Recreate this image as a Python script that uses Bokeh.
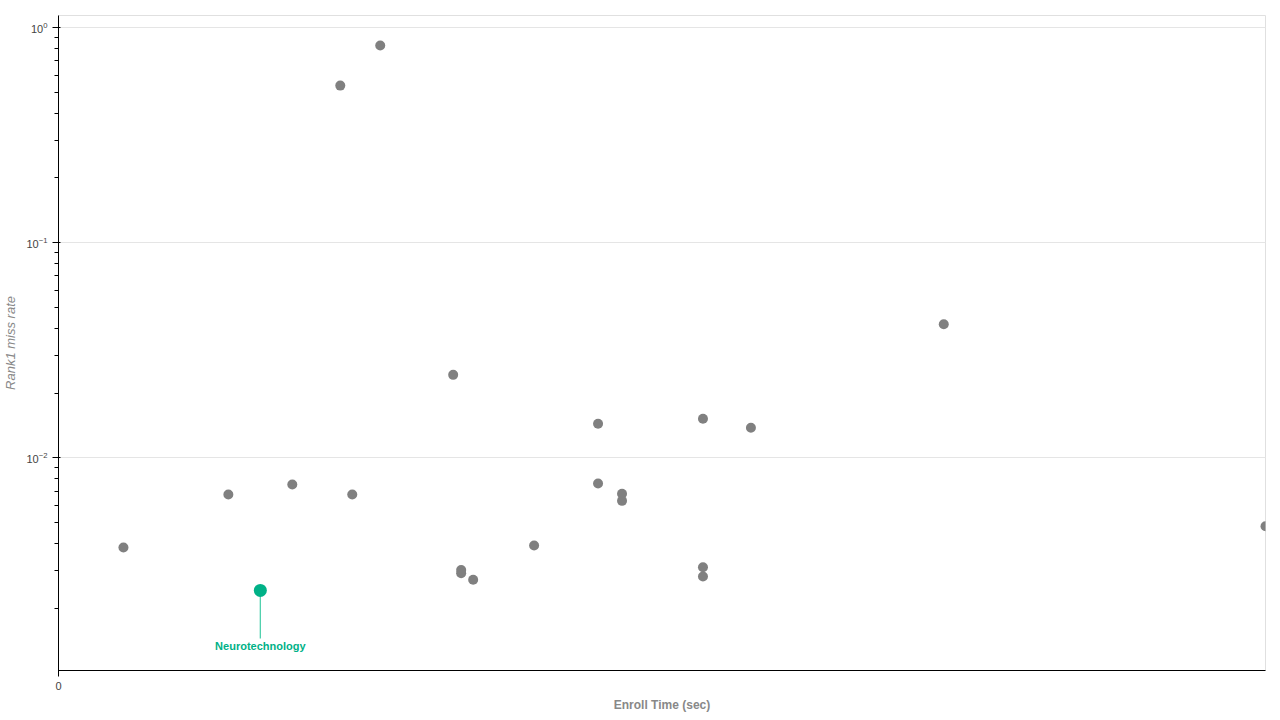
from bokeh.plotting import figure
from bokeh.models import ColumnDataSource, Range1d, FixedTicker
from bokeh.core.properties import value
from bokeh.embed import file_html
from bokeh.resources import INLINE

# enroll time (sec) and rank-1 miss rate
enroll_time = [0.065, 0.170, 0.234, 0.294, 0.282, 0.322, 0.395, 0.403, 0.403,
               0.415, 0.476, 0.540, 0.540, 0.564, 0.564, 0.645, 0.645, 0.645,
               0.693, 0.886, 1.208]
miss_rate = [0.00383, 0.00675, 0.00751, 0.00675, 0.537, 0.824, 0.0243, 0.00301,
             0.00291, 0.00271, 0.00391, 0.0144, 0.00760, 0.00681, 0.00631,
             0.0152, 0.00310, 0.00281, 0.0138, 0.0418, 0.00481]

highlight_name = ["Neurotechnology"]
highlight_time = [0.202]
highlight_rate = [0.00242]

x_start, x_end = 0, 1.208
y_start, y_end = 0.001027, 1.137

GREY = "#808080"
TEAL = "#00b187"

p = figure(width=1272, height=714, y_axis_type="log",
           x_range=Range1d(x_start, x_end), y_range=Range1d(y_start, y_end),
           output_backend="svg", toolbar_location=None,
           min_border_left=49, min_border_right=7,
           min_border_top=15, min_border_bottom=43)

others = ColumnDataSource(dict(x=enroll_time, y=miss_rate))
p.scatter("x", "y", source=others, size=10, color=GREY, line_color=None)

hl = ColumnDataSource(dict(x=highlight_time, y=highlight_rate, name=highlight_name))
p.ray("x", "y", source=hl, length=48, length_units="screen", angle=-1.5708,
      line_color="#4fd1ad", line_width=1.3)
p.scatter("x", "y", source=hl, size=13, color=TEAL, line_color=None)
p.text("x", "y", text="name", source=hl, y_offset=56,
       text_align="center", text_baseline="middle",
       text_color=TEAL, text_font=value("Liberation Sans"),
       text_font_size="11px", text_font_style="bold")

p.xaxis.ticker = FixedTicker(ticks=[0])
p.xaxis.axis_label = "Enroll Time (sec)"
p.yaxis.axis_label = "Rank1 miss rate"
for ax in (p.xaxis, p.yaxis):
    ax.axis_label_text_color = "#888888"
    ax.axis_label_text_font = "Liberation Sans"
    ax.axis_label_text_font_size = "12px"
    ax.major_label_text_color = "#444444"
    ax.major_label_text_font = "Liberation Sans"
    ax.major_label_text_font_size = "11px"
    ax.axis_line_color = "black"
    ax.major_tick_line_color = "black"
    ax.minor_tick_line_color = "black"
p.xaxis.axis_label_text_font_style = "bold"
p.yaxis.axis_label_text_font_style = "italic"
p.yaxis.axis_label_text_font_size = "13px"
p.xaxis.minor_tick_line_color = None

p.xgrid.grid_line_color = None
p.ygrid.grid_line_color = "#e5e5e5"
p.outline_line_color = "#e0e0e0"

open("out.html", "w").write(file_html(p, INLINE))
